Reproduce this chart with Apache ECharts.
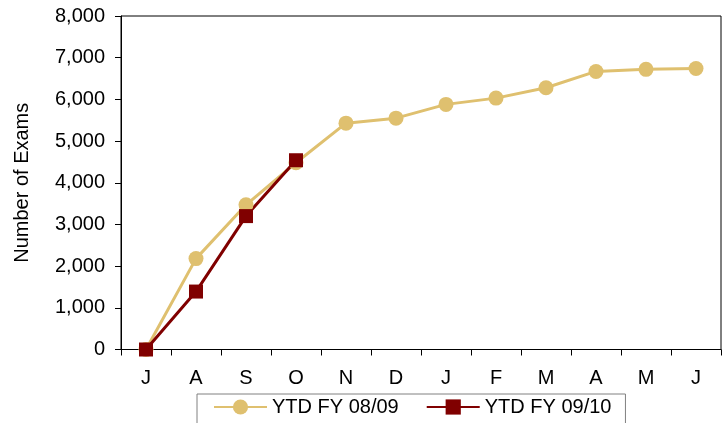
<!DOCTYPE html>
<html>
<head>
<meta charset="utf-8">
<script src="https://cdn.jsdelivr.net/npm/echarts@6/dist/echarts.min.js"></script>
<style>html,body{margin:0;padding:0;background:#fff;}#c{width:726px;height:423px;}</style>
</head>
<body>
<div id="c"></div>
<script>
const categories = ['J','A','S','O','N','D','J','F','M','A','M','J'];
const fy0809 = [0, 2180, 3470, 4480, 5430, 5550, 5880, 6030, 6280, 6670, 6720, 6740];
const fy0910 = [0, 1390, 3200, 4540];
const seriesNames = ['YTD FY 08/09', 'YTD FY 09/10'];
const yTicks = { min: 0, max: 8000, interval: 1000 };

const font = 'Liberation Sans, Arial, sans-serif';
const chart = echarts.init(document.getElementById('c'), null, { renderer: 'canvas' });
chart.setOption({
  animation: false,
  backgroundColor: '#fff',
  grid: { left: 121, right: 5, top: 16, bottom: 73.5, show: true, borderColor: '#000', borderWidth: 1, backgroundColor: 'transparent' },
  xAxis: {
    type: 'category', data: categories, boundaryGap: true,
    axisLine: { lineStyle: { color: '#000', width: 1 } },
    axisTick: { show: true, length: 6, inside: false, lineStyle: { color: '#000' } },
    axisLabel: { color: '#000', fontSize: 20, fontFamily: font, margin: 19, interval: 0 },
    splitLine: { show: false }
  },
  yAxis: {
    type: 'value', min: yTicks.min, max: yTicks.max, interval: yTicks.interval,
    name: 'Number of Exams', nameLocation: 'middle', nameGap: 89, nameRotate: 90,
    nameTextStyle: { color: '#000', fontSize: 20, fontFamily: font },
    axisLine: { show: true, lineStyle: { color: '#000', width: 1 } },
    axisTick: { show: true, length: 6, lineStyle: { color: '#000' } },
    axisLabel: { color: '#000', fontSize: 20, fontFamily: font, margin: 16,
      formatter: v => v.toLocaleString('en-US') },
    splitLine: { show: false }
  },
  legend: {
    left: 197, top: 394,
    padding: [3, 14, 30, 16],
    borderColor: '#808080', borderWidth: 1, backgroundColor: '#fff',
    itemWidth: 53, itemHeight: 19, itemGap: 27,
    textStyle: { color: '#000', fontSize: 20, fontFamily: font },
    data: seriesNames
  },
  series: [
    {
      name: seriesNames[0], type: 'line', data: fy0809,
      symbol: 'circle', symbolSize: 15,
      lineStyle: { color: '#DFC06F', width: 3 },
      itemStyle: { color: '#DFC06F' }
    },
    {
      name: seriesNames[1], type: 'line', data: fy0910,
      symbol: 'rect', symbolSize: 14,
      lineStyle: { color: '#800000', width: 3 },
      itemStyle: { color: '#800000' }
    }
  ]
});
</script>
</body>
</html>
